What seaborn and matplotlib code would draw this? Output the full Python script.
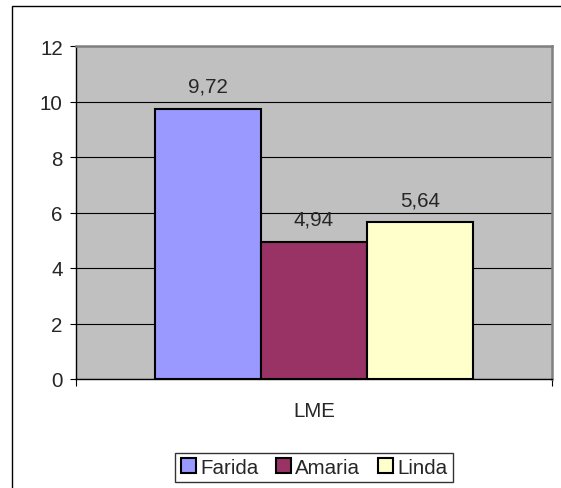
import matplotlib
matplotlib.use("Agg")
import matplotlib.pyplot as plt
import seaborn as sns
import pandas as pd
from matplotlib.patches import Rectangle

# ── Data ──────────────────────────────────────────────────────────────────────
names = ["Farida", "Amaria", "Linda"]
values = [9.72, 4.94, 5.64]
group = "LME"
colors = ["#9999FF", "#993366", "#FFFFCC"]
yticks = [0, 2, 4, 6, 8, 10, 12]

df = pd.DataFrame({"group": [group] * len(names), "name": names, "value": values})

# ── Style ─────────────────────────────────────────────────────────────────────
sns.set_style("white")
plt.rcParams["font.family"] = ["Liberation Sans", "DejaVu Sans"]
FS = 14.8

fig = plt.figure(figsize=(5.61, 4.89), dpi=100)
fig.patches.append(Rectangle((12 / 561, -0.05), 1.0, 1 - 7 / 489 + 0.05,
                             transform=fig.transFigure, fill=False,
                             edgecolor="black", linewidth=1.0))

ax = fig.add_axes([76 / 561, 1 - 380 / 489, (552 - 76) / 561, (380 - 47) / 489])
ax.set_facecolor("#C0C0C0")

sns.barplot(data=df, x="group", y="value", hue="name", hue_order=names,
            palette=colors, width=0.668, saturation=1, edgecolor="black",
            linewidth=1.5, ax=ax, legend=True, zorder=3)

# value labels
for cont, v in zip(ax.containers, values):
    for bar in cont:
        ax.annotate(f"{v:.2f}".replace(".", ","),
                    (bar.get_x() + bar.get_width() / 2, bar.get_height()),
                    xytext=(0, 16.5), textcoords="offset points",
                    ha="center", va="center", fontsize=FS, zorder=4)

ax.set_ylim(0, 12)
ax.set_xlim(-0.5, 0.5)
ax.set_yticks(yticks)
ax.set_yticklabels([str(t) for t in yticks], fontsize=FS)
ax.yaxis.grid(True, color="black", linewidth=0.8)
ax.set_axisbelow(True)
ax.tick_params(axis="y", direction="out", length=4.5, width=0.8, color="black", pad=5, left=True)

ax.set_xticks([-0.5, 0.5])
ax.set_xticklabels(["", ""])
ax.set_xticks([0], minor=True)
ax.set_xticklabels([group], minor=True, fontsize=FS)
ax.tick_params(axis="x", which="major", direction="out", length=5, width=0.8, color="black", bottom=True)
ax.tick_params(axis="x", which="minor", length=0, pad=16)
ax.set_xlabel("")
ax.set_ylabel("")

for side in ["left", "bottom"]:
    ax.spines[side].set_color("black")
    ax.spines[side].set_linewidth(1.0)
for side in ["top", "right"]:
    ax.spines[side].set_visible(True)
    ax.spines[side].set_color("#808080")
    ax.spines[side].set_linewidth(1.8)

# ── Legend ────────────────────────────────────────────────────────────────────
handles, labels = ax.get_legend_handles_labels()
ax.get_legend().remove()
leg = fig.legend(handles, labels, loc="center", bbox_to_anchor=(314 / 561, 1 - 468.5 / 489),
                 ncol=3, fontsize=FS, frameon=True, fancybox=False, edgecolor="black",
                 handlelength=0.75, handleheight=0.75, handletextpad=0.2,
                 columnspacing=0.85, borderpad=0.25, borderaxespad=0)
leg.get_frame().set_linewidth(1.0)
for h in leg.legend_handles:
    h.set_edgecolor("black")
    h.set_linewidth(1.5)

fig.savefig("out.png", dpi=100)
